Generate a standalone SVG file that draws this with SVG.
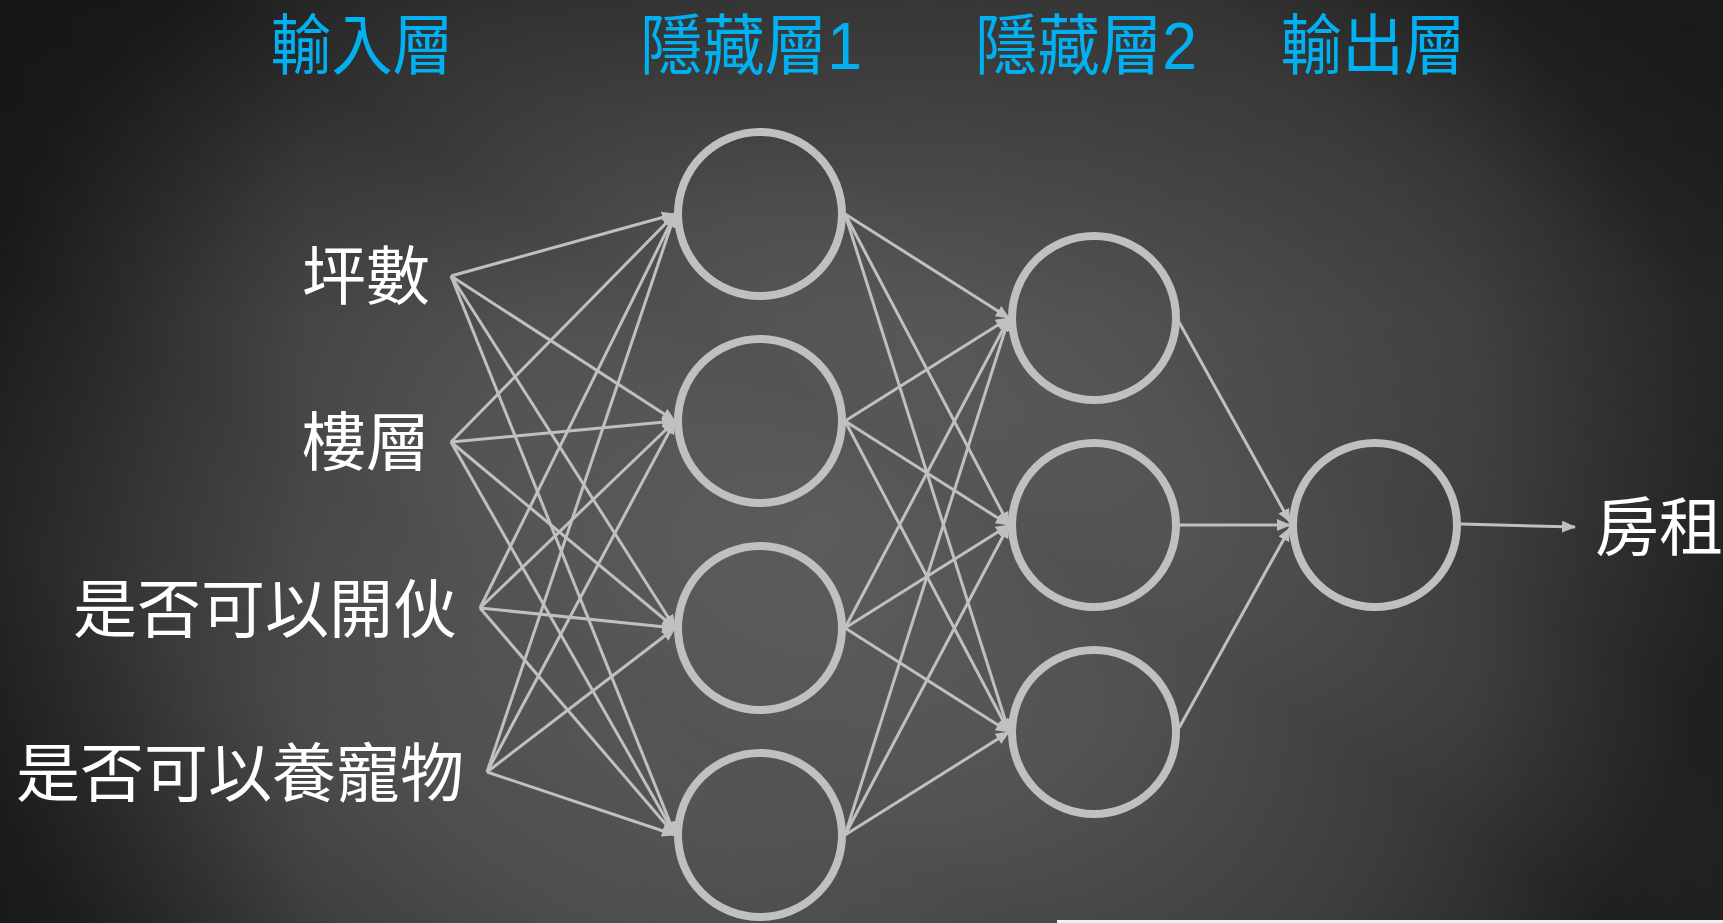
<svg xmlns="http://www.w3.org/2000/svg" width="1723" height="923" viewBox="0 0 1723 923">
  <defs>
    <radialGradient id="bgRad" cx="830" cy="520" r="900" gradientUnits="userSpaceOnUse" gradientTransform="translate(830 520) scale(1.0 0.85) translate(-830 -520)">
      <stop offset="0" stop-color="#5c5c5c"/>
      <stop offset="0.4" stop-color="#525252"/>
      <stop offset="0.75" stop-color="#3c3c3c"/>
      <stop offset="1" stop-color="#242424"/>
    </radialGradient>
    <linearGradient id="streak" x1="0" y1="923" x2="600" y2="0" gradientUnits="userSpaceOnUse" spreadMethod="repeat">
      <stop offset="0" stop-color="#ffffff" stop-opacity="0"/>
      <stop offset="0.3" stop-color="#ffffff" stop-opacity="0.04"/>
      <stop offset="0.5" stop-color="#ffffff" stop-opacity="0"/>
      <stop offset="0.8" stop-color="#000000" stop-opacity="0.045"/>
      <stop offset="1" stop-color="#ffffff" stop-opacity="0"/>
    </linearGradient>
    <linearGradient id="edgeShade" x1="0" y1="0" x2="1" y2="0">
      <stop offset="0" stop-color="#000000" stop-opacity="0.3"/>
      <stop offset="0.18" stop-color="#000000" stop-opacity="0"/>
      <stop offset="0.85" stop-color="#000000" stop-opacity="0"/>
      <stop offset="1" stop-color="#000000" stop-opacity="0.15"/>
    </linearGradient>
    <linearGradient id="topShade" x1="0" y1="0" x2="0" y2="1">
      <stop offset="0" stop-color="#000000" stop-opacity="0.2"/>
      <stop offset="0.35" stop-color="#000000" stop-opacity="0"/>
      <stop offset="1" stop-color="#000000" stop-opacity="0"/>
    </linearGradient>
    <marker id="arrow" markerUnits="userSpaceOnUse" markerWidth="14" markerHeight="12" refX="13" refY="6" orient="auto">
      <path d="M0,0 L14,6 L0,12 z" fill="#c0c0c0"/>
    </marker>
    <style>
      .title { font-family: "Liberation Sans", "Noto Sans CJK TC", "Noto Sans CJK SC", sans-serif; font-size: 66px; fill: #00b0f0; text-anchor: middle; }
      .label { font-family: "Noto Sans CJK TC", "Noto Sans CJK SC", sans-serif; font-size: 64px; fill: #ffffff; }
      .node { fill: none; stroke: #c0c0c0; stroke-width: 8; }
      .conn line { stroke: #c0c0c0; stroke-width: 3; marker-end: url(#arrow); }
    </style>
  </defs>

  <!-- background -->
  <rect x="0" y="0" width="1723" height="923" fill="url(#bgRad)"/>
  <rect x="0" y="0" width="1723" height="923" fill="url(#streak)"/>
  <rect x="0" y="0" width="1723" height="923" fill="url(#edgeShade)"/>
  <rect x="0" y="0" width="1723" height="923" fill="url(#topShade)"/>
  <rect x="1057" y="920" width="666" height="3" fill="#f0f0f0"/>

  <!-- layer titles -->
  <g id="titles">
    <text class="title" x="362" y="69" textLength="183" lengthAdjust="spacingAndGlyphs">輸入層</text>
    <text class="title" x="751" y="69" textLength="222" lengthAdjust="spacingAndGlyphs">隱藏層1</text>
    <text class="title" x="1086" y="69" textLength="222" lengthAdjust="spacingAndGlyphs">隱藏層2</text>
    <text class="title" x="1373" y="69" textLength="185" lengthAdjust="spacingAndGlyphs">輸出層</text>
  </g>

  <!-- connectors -->
  <g id="connectors" class="conn">
    <!-- input -> hidden1 -->
    <line x1="451" y1="276" x2="675" y2="214"/>
    <line x1="451" y1="276" x2="675" y2="421"/>
    <line x1="451" y1="276" x2="675" y2="628"/>
    <line x1="451" y1="276" x2="675" y2="835"/>
    <line x1="451" y1="442" x2="675" y2="214"/>
    <line x1="451" y1="442" x2="675" y2="421"/>
    <line x1="451" y1="442" x2="675" y2="628"/>
    <line x1="451" y1="442" x2="675" y2="835"/>
    <line x1="480" y1="608" x2="675" y2="214"/>
    <line x1="480" y1="608" x2="675" y2="421"/>
    <line x1="480" y1="608" x2="675" y2="628"/>
    <line x1="480" y1="608" x2="675" y2="835"/>
    <line x1="487" y1="772" x2="675" y2="214"/>
    <line x1="487" y1="772" x2="675" y2="421"/>
    <line x1="487" y1="772" x2="675" y2="628"/>
    <line x1="487" y1="772" x2="675" y2="835"/>
    <!-- hidden1 -> hidden2 -->
    <line x1="845" y1="214" x2="1009" y2="318"/>
    <line x1="845" y1="214" x2="1009" y2="525"/>
    <line x1="845" y1="214" x2="1009" y2="732"/>
    <line x1="845" y1="421" x2="1009" y2="318"/>
    <line x1="845" y1="421" x2="1009" y2="525"/>
    <line x1="845" y1="421" x2="1009" y2="732"/>
    <line x1="845" y1="628" x2="1009" y2="318"/>
    <line x1="845" y1="628" x2="1009" y2="525"/>
    <line x1="845" y1="628" x2="1009" y2="732"/>
    <line x1="845" y1="835" x2="1009" y2="318"/>
    <line x1="845" y1="835" x2="1009" y2="525"/>
    <line x1="845" y1="835" x2="1009" y2="732"/>
    <!-- hidden2 -> output -->
    <line x1="1179" y1="322" x2="1290" y2="522"/>
    <line x1="1179" y1="525" x2="1290" y2="525"/>
    <line x1="1179" y1="728" x2="1290" y2="528"/>
    <!-- output -> result -->
    <line x1="1461" y1="524" x2="1575" y2="527"/>
  </g>

  <!-- input nodes (labels) -->
  <g id="in1"><text class="label" x="430" y="299" text-anchor="end">坪數</text></g>
  <g id="in2"><text class="label" x="430" y="465" text-anchor="end">樓層</text></g>
  <g id="in3"><text class="label" x="457" y="632" text-anchor="end">是否可以開伙</text></g>
  <g id="in4"><text class="label" x="464" y="796" text-anchor="end">是否可以養寵物</text></g>

  <!-- hidden layer 1 -->
  <g id="h1_1"><circle class="node" cx="760" cy="214" r="82"/></g>
  <g id="h1_2"><circle class="node" cx="760" cy="421" r="82"/></g>
  <g id="h1_3"><circle class="node" cx="760" cy="628" r="82"/></g>
  <g id="h1_4"><circle class="node" cx="760" cy="835" r="82"/></g>

  <!-- hidden layer 2 -->
  <g id="h2_1"><circle class="node" cx="1094" cy="318" r="82"/></g>
  <g id="h2_2"><circle class="node" cx="1094" cy="525" r="82"/></g>
  <g id="h2_3"><circle class="node" cx="1094" cy="732" r="82"/></g>

  <!-- output -->
  <g id="out"><circle class="node" cx="1375" cy="525" r="82"/></g>
  <g id="result"><text class="label" x="1595" y="550">房租</text></g>
</svg>
